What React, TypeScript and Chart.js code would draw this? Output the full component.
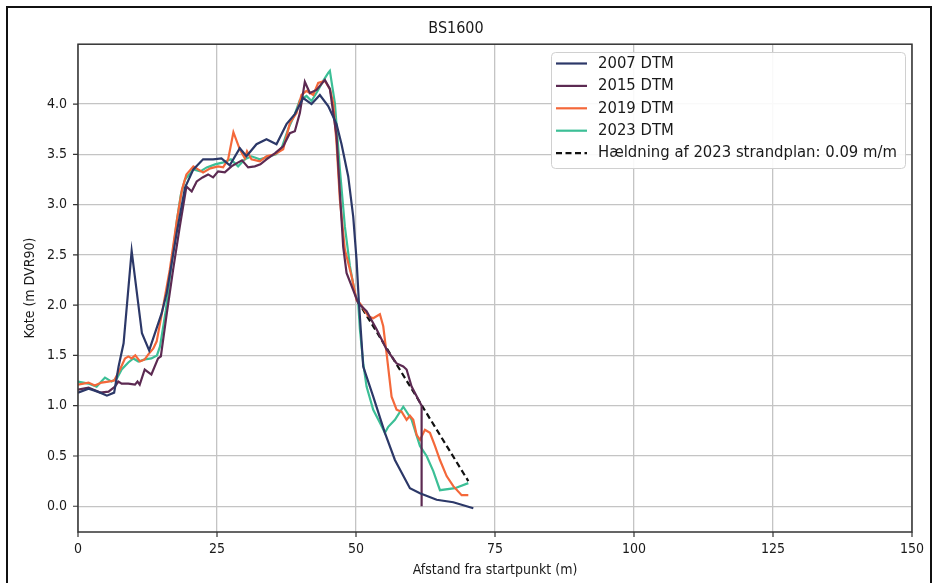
import { useEffect, useRef } from "react";
import { Chart, registerables } from "chart.js";

Chart.register(...registerables);

const FONT = "'DejaVu Sans Condensed', 'DejaVu Sans', sans-serif";

const chartTitle = "BS1600";
const xAxisTitle = "Afstand fra startpunkt (m)";
const yAxisTitle = "Kote (m DVR90)";

const xTicks = [0, 25, 50, 75, 100, 125, 150];
const yTicks = [0, 0.5, 1.0, 1.5, 2.0, 2.5, 3.0, 3.5, 4.0];

const labels = ["2007 DTM", "2015 DTM", "2019 DTM", "2023 DTM", "Hældning af 2023 strandplan: 0.09 m/m"];
const colors = ["#2c3868", "#5c2a52", "#f4683a", "#3cbf96", "#111111"];

const x2007 = [0, 1.9, 3, 4, 5.2, 6.5, 7.3, 8.2, 9.65, 11.5, 12.8, 15.05, 15.95, 17.75, 19.25, 20.75, 22.5, 24.3, 25.8, 27.3, 29.1, 30.3, 32.1, 33.9, 35.7, 37.5, 39, 40.5, 42, 43.5, 45, 46.5, 47.4, 48.6, 49.5, 50.1, 50.5, 51.3, 53.1, 55.2, 57, 59.7, 61.5, 64.5, 67.5, 71.1];
const y2007 = [1.13, 1.17, 1.15, 1.13, 1.10, 1.13, 1.39, 1.62, 2.54, 1.72, 1.55, 1.92, 2.12, 2.72, 3.17, 3.35, 3.45, 3.45, 3.46, 3.39, 3.56, 3.48, 3.60, 3.65, 3.60, 3.80, 3.90, 4.06, 4.00, 4.09, 3.98, 3.80, 3.60, 3.28, 2.88, 2.45, 2.05, 1.39, 1.09, 0.73, 0.46, 0.18, 0.13, 0.065, 0.04, -0.02];

const x2015 = [0, 1.9, 4, 5.5, 6.65, 7.25, 7.85, 9.05, 10.25, 10.7, 11.1, 12, 13.2, 14.4, 14.9, 15.9, 17.1, 18.3, 19.5, 20.45, 21.35, 22.4, 23.4, 24.3, 25.2, 26.4, 27.6, 28.5, 29.5, 30.6, 31.8, 32.8, 33.9, 35.4, 36.9, 38.1, 39, 39.9, 40.8, 41.7, 42.9, 44.4, 45.3, 46.5, 47.1, 47.7, 48.3, 49.5, 50.4, 51.9, 53.7, 55.5, 57.3, 58.5, 59.1, 60, 61.8, 61.8];
const y2015 = [1.16, 1.18, 1.13, 1.14, 1.19, 1.24, 1.22, 1.22, 1.21, 1.24, 1.21, 1.36, 1.31, 1.47, 1.49, 1.89, 2.35, 2.78, 3.18, 3.13, 3.23, 3.27, 3.30, 3.27, 3.33, 3.32, 3.38, 3.41, 3.44, 3.37, 3.38, 3.40, 3.45, 3.51, 3.58, 3.71, 3.73, 3.91, 4.22, 4.11, 4.14, 4.24, 4.15, 3.68, 3.12, 2.58, 2.32, 2.15, 2.02, 1.94, 1.76, 1.56, 1.42, 1.39, 1.36, 1.19, 1.00, 0.0];

const x2019 = [0, 1.9, 3, 4.25, 5.45, 6.5, 7.55, 8.45, 9.05, 9.65, 10.3, 11.15, 12, 12.65, 13.55, 14.15, 15.2, 16.5, 17.8, 18.7, 19.5, 20.75, 21.6, 22.5, 23.8, 25.2, 26.1, 27, 27.95, 29.1, 30, 30.4, 31.2, 32.7, 33.9, 35.4, 36.9, 38.1, 39.3, 40.2, 41.1, 42.3, 43.2, 44.4, 45.3, 45.9, 46.5, 47.1, 48, 49.2, 50.1, 50.7, 52.2, 53.1, 54.3, 54.9, 55.5, 56.4, 57.3, 58.2, 59.1, 59.7, 60.3, 60.9, 61.5, 62.4, 63.3, 64.2, 65.1, 66.3, 67.5, 69, 70.2];
const y2019 = [1.21, 1.23, 1.20, 1.23, 1.24, 1.25, 1.36, 1.47, 1.49, 1.47, 1.50, 1.44, 1.46, 1.51, 1.57, 1.64, 1.95, 2.35, 2.85, 3.15, 3.30, 3.38, 3.35, 3.32, 3.36, 3.38, 3.37, 3.45, 3.72, 3.55, 3.46, 3.53, 3.45, 3.43, 3.48, 3.50, 3.55, 3.81, 3.91, 4.09, 4.13, 4.09, 4.21, 4.23, 4.15, 4.01, 3.61, 3.05, 2.55, 2.29, 2.05, 2.02, 1.89, 1.87, 1.91, 1.79, 1.52, 1.09, 0.96, 0.94, 0.86, 0.90, 0.86, 0.71, 0.66, 0.76, 0.73, 0.60, 0.46, 0.30, 0.20, 0.11, 0.11];

const x2023 = [0, 1.85, 3.35, 4.85, 6.05, 7, 7.85, 9.05, 9.95, 10.85, 12, 13.2, 14.2, 14.75, 15.8, 16.8, 17.8, 18.5, 19.25, 20.75, 22, 23.15, 24.65, 26.15, 27.5, 28.8, 30, 31.2, 32.7, 34.5, 35.6, 36.6, 37.8, 39, 39.9, 41.1, 42, 43.2, 44.1, 45, 45.3, 46.2, 47.1, 48, 48.9, 49.8, 50.4, 50.7, 51.3, 51.9, 53.1, 54.3, 55.2, 55.8, 57, 58.5, 59.1, 60, 61.5, 62.7, 63.9, 65.1, 67.8, 70.2];
const y2023 = [1.24, 1.22, 1.19, 1.28, 1.24, 1.27, 1.36, 1.43, 1.47, 1.44, 1.46, 1.47, 1.50, 1.59, 1.95, 2.40, 2.85, 3.10, 3.25, 3.35, 3.33, 3.37, 3.40, 3.42, 3.45, 3.38, 3.45, 3.48, 3.45, 3.48, 3.50, 3.56, 3.75, 3.90, 4.04, 4.08, 4.03, 4.14, 4.23, 4.31, 4.33, 4.01, 3.35, 2.78, 2.39, 2.12, 2.02, 1.76, 1.42, 1.19, 0.96, 0.83, 0.73, 0.79, 0.86, 0.99, 0.94, 0.86, 0.60, 0.50, 0.35, 0.16, 0.18, 0.23];

const xSlope = [50.2, 70.2];
const ySlope = [2.05, 0.25];

const seriesX = [x2007, x2015, x2019, x2023, xSlope];
const seriesY = [y2007, y2015, y2019, y2023, ySlope];

export default function App() {
  const ref = useRef<HTMLCanvasElement | null>(null);

  useEffect(() => {
    const canvas = ref.current;
    if (!canvas) return;

    const framePlugin = {
      id: "framePlugin",
      afterDraw(chart: any) {
        const { ctx, chartArea } = chart;
        const { left, right, top, bottom } = chartArea;
        ctx.save();
        ctx.strokeStyle = "#333333";
        ctx.lineWidth = 1.5;
        ctx.strokeRect(left, top, right - left, bottom - top);
        const xs = chart.scales.x;
        const ys = chart.scales.y;
        ctx.lineWidth = 1.2;
        ctx.beginPath();
        for (const v of xTicks) {
          const px = xs.getPixelForValue(v);
          ctx.moveTo(px, bottom);
          ctx.lineTo(px, bottom + 5);
        }
        for (const v of yTicks) {
          const py = ys.getPixelForValue(v);
          ctx.moveTo(left, py);
          ctx.lineTo(left - 5, py);
        }
        ctx.stroke();

        // legend
        const bx = 551, by = 52, bw = 354, bh = 116;
        ctx.fillStyle = "rgba(255,255,255,0.9)";
        ctx.strokeStyle = "#d0d0d0";
        ctx.lineWidth = 1;
        ctx.beginPath();
        (ctx as any).roundRect(bx + 0.5, by + 0.5, bw, bh, 4);
        ctx.fill();
        ctx.stroke();
        ctx.font = `16.5px ${FONT}`;
        ctx.textBaseline = "middle";
        ctx.textAlign = "left";
        const ds = chart.data.datasets;
        for (let i = 0; i < ds.length; i++) {
          const yy = 63.5 + i * 22.4;
          ctx.strokeStyle = ds[i].borderColor;
          ctx.lineWidth = 2.2;
          ctx.setLineDash(ds[i].borderDash || []);
          ctx.beginPath();
          ctx.moveTo(556, yy);
          ctx.lineTo(587, yy);
          ctx.stroke();
          ctx.setLineDash([]);
          ctx.fillStyle = "#1a1a1a";
          ctx.fillText(ds[i].label, 598, yy);
        }
        ctx.restore();
      },
    };

    const chart = new Chart(canvas, {
      type: "scatter",
      data: {
        datasets: labels.map((lab, i) => ({
          label: lab,
          data: seriesX[i].map((x, j) => ({ x, y: seriesY[i][j] })),
          showLine: true,
          borderColor: colors[i],
          backgroundColor: colors[i],
          borderWidth: 2.2,
          borderDash: i === 4 ? [6, 3.5] : undefined,
          pointRadius: 0,
          pointHoverRadius: 0,
          tension: 0,
        })),
      },
      options: {
        animation: false,
        responsive: false,
        maintainAspectRatio: false,
        layout: { padding: { left: 0, right: 24, top: 0, bottom: 0 } },
        plugins: {
          legend: { display: false },
          tooltip: { enabled: false },
          title: {
            display: true,
            text: chartTitle,
            color: "#1a1a1a",
            font: { family: FONT, size: 16, weight: "normal" },
            padding: { top: 19, bottom: 6 },
          },
        },
        scales: {
          x: {
            type: "linear",
            min: 0,
            max: 150,
            afterBuildTicks: (s: any) => {
              s.ticks = xTicks.map((v) => ({ value: v }));
            },
            afterFit: (s: any) => {
              s.height = 51;
            },
            ticks: {
              color: "#1a1a1a",
              font: { family: FONT, size: 14 },
              padding: 9,
              maxRotation: 0,
              callback: (v: any) => String(v),
            },
            grid: { color: "#c4c4c4", lineWidth: 1.3, drawTicks: false },
            border: { display: false },
            title: {
              display: true,
              text: xAxisTitle,
              color: "#1a1a1a",
              font: { family: FONT, size: 14 },
              padding: { top: 0, bottom: 4 },
            },
          },
          y: {
            type: "linear",
            min: -0.256,
            max: 4.595,
            afterBuildTicks: (s: any) => {
              s.ticks = yTicks.map((v) => ({ value: v }));
            },
            afterFit: (s: any) => {
              s.width = 78;
            },
            ticks: {
              color: "#1a1a1a",
              font: { family: FONT, size: 14 },
              padding: 11,
              callback: (v: any) => Number(v).toFixed(1),
            },
            grid: { color: "#c4c4c4", lineWidth: 1.3, drawTicks: false },
            border: { display: false },
            title: {
              display: true,
              text: yAxisTitle,
              color: "#1a1a1a",
              font: { family: FONT, size: 14 },
              padding: { top: 22, bottom: 0 },
            },
          },
        },
      },
      plugins: [framePlugin],
    } as any);

    return () => chart.destroy();
  }, []);

  return (
    <div style={{ position: "fixed", left: 0, top: 0, width: 936, height: 583, background: "#ffffff", overflow: "hidden" }}>
      <canvas ref={ref} width={936} height={583} style={{ display: "block", width: 936, height: 583 }} />
      <div
        style={{
          position: "absolute",
          left: 6,
          top: 6,
          width: 922,
          height: 600,
          borderLeft: "2px solid #111",
          borderTop: "2px solid #111",
          borderRight: "2px solid #111",
          pointerEvents: "none",
        }}
      />
    </div>
  );
}
